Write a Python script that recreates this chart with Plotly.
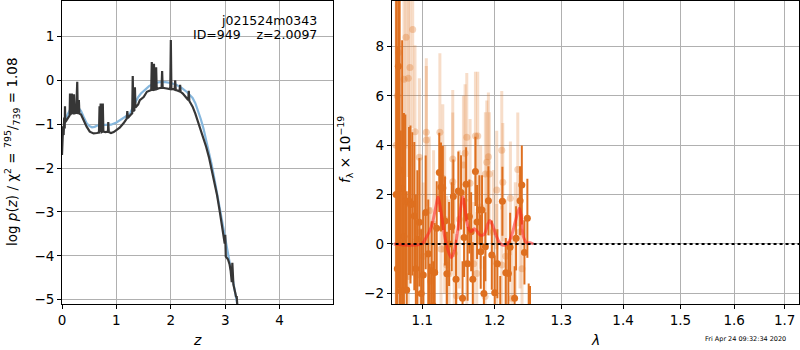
import plotly.graph_objects as go
import math

# ---------------- Left panel: log p(z) ----------------
z_chi = [0.00, 0.01, 0.02, 0.03, 0.04, 0.05, 0.055, 0.06, 0.08, 0.10, 0.12, 0.14, 0.147, 0.155,
         0.17, 0.18, 0.19, 0.21, 0.22, 0.23, 0.26, 0.28, 0.29, 0.30, 0.31, 0.32, 0.35, 0.39, 0.45,
         0.51, 0.58, 0.64, 0.68, 0.69, 0.70, 0.71, 0.72, 0.73, 0.745, 0.75, 0.76, 0.80, 0.845, 0.85,
         0.86, 0.90, 0.95, 1.00, 1.06, 1.13, 1.19, 1.20, 1.21, 1.25, 1.29, 1.30, 1.31, 1.33, 1.34,
         1.35, 1.40, 1.43, 1.50, 1.56, 1.60, 1.64, 1.65, 1.66, 1.68, 1.69, 1.70, 1.72, 1.73, 1.74,
         1.78, 1.83, 1.84, 1.85, 1.90, 1.96, 1.99, 2.00, 2.01, 2.05, 2.07, 2.08, 2.09, 2.14, 2.16,
         2.17, 2.18, 2.22, 2.26, 2.30, 2.32, 2.33, 2.34, 2.40, 2.45, 2.50, 2.55, 2.60, 2.65, 2.70,
         2.75, 2.80, 2.85, 2.90, 2.95, 2.99, 3.00, 3.01, 3.05, 3.08, 3.10, 3.12, 3.13, 3.15, 3.19,
         3.20, 3.21, 3.22]
logp_chi = [-1.70, -1.30, -1.05, -1.25, -0.85, -1.10, -0.59, -0.95, -0.92, -0.88, -0.85, -0.80, -0.30, -0.78,
            -0.75, -0.30, -0.76, -0.74, -0.32, -0.75, -0.74, -0.03, -0.74, -0.76, -0.45, -0.76, -0.78, -0.90, -1.05,
            -1.17, -1.21, -1.20, -1.19, -0.59, -1.18, -0.53, -1.18, -1.18, -1.17, -0.53, -1.17, -1.18, -1.17, -0.95,
            -1.18, -1.20, -1.18, -1.13, -1.08, -0.98, -0.87, -0.70, -0.86, -0.80, -0.75, 0.10, -0.70, -0.68, -0.16,
            -0.62, -0.55, -0.45, -0.38, -0.26, -0.24, -0.22, 0.42, -0.22, -0.22, 0.38, -0.21, -0.20, 0.30, -0.20,
            -0.18, -0.17, 0.21, -0.17, -0.18, -0.19, -0.20, 0.92, -0.20, -0.20, -0.21, 0.00, -0.22, -0.24, -0.25,
            -0.10, -0.26, -0.30, -0.35, -0.42, -0.45, -0.24, -0.47, -0.60, -0.76, -0.95, -1.12, -1.30, -1.52, -1.75,
            -2.02, -2.30, -2.62, -3.00, -3.35, -3.72, -3.52, -4.02, -4.08, -4.20, -4.35, -4.60, -4.16, -4.66, -4.88,
            -4.95, -4.92, -5.10]

z_smooth = [0.00, 0.05, 0.10, 0.15, 0.20, 0.25, 0.30, 0.35, 0.40, 0.45, 0.50, 0.55, 0.60, 0.65, 0.70,
            0.80, 0.90, 1.00, 1.10, 1.20, 1.25, 1.30, 1.35, 1.40, 1.45, 1.50, 1.60, 1.70, 1.80, 1.90,
            2.00, 2.10, 2.20, 2.30, 2.40, 2.45, 2.50, 2.55, 2.60, 2.65, 2.70, 2.75, 2.80, 2.85, 2.90,
            2.95, 3.00, 3.05, 3.10, 3.15, 3.20, 3.22]
logp_smooth = [-1.30, -0.95, -0.78, -0.66, -0.60, -0.59, -0.62, -0.70, -0.84, -0.97, -1.04, -1.07, -1.06, -1.03, -1.02,
               -1.02, -1.01, -0.96, -0.88, -0.82, -0.76, -0.62, -0.48, -0.38, -0.30, -0.24, -0.13, -0.06, -0.04, -0.04,
               -0.06, -0.10, -0.17, -0.27, -0.40, -0.52, -0.68, -0.88, -1.10, -1.35, -1.62, -1.92, -2.24, -2.58, -2.92,
               -3.28, -3.63, -3.98, -4.32, -4.66, -5.00, -5.10]

z_ticks = [0, 1, 2, 3, 4]
logp_ticks = [-5, -4, -3, -2, -1, 0, 1]

# ---------------- Right panel: spectrum ----------------
wave_g = [1.0660, 1.0675, 1.0688, 1.0705, 1.0720, 1.0737, 1.0760, 1.0778, 1.0796, 1.0826, 1.0845, 1.0869,
          1.0895, 1.0915, 1.0935, 1.0961, 1.0985, 1.1013, 1.1045, 1.1079, 1.1100, 1.1125, 1.1145, 1.1165,
          1.1192, 1.1227, 1.1250, 1.1275, 1.1304, 1.1330, 1.1360, 1.1396, 1.1418, 1.1455, 1.1487, 1.1524,
          1.1545, 1.1566, 1.1594, 1.1615, 1.1640, 1.1665, 1.1688, 1.1725, 1.1748, 1.1781, 1.1800, 1.1819,
          1.1845, 1.1866, 1.1909, 1.1958, 1.2000, 1.2038, 1.2080, 1.2111, 1.2161, 1.2199, 1.2224, 1.2290,
          1.2312, 1.2371, 1.2397, 1.2436, 1.2480, 1.2500, 1.2520]
flux_g = [2.0, -1.0, 7.2, 3.0, -1.9, 2.25, 0.3, 1.74, -1.86, 1.74, 1.6, 1.62,
          1.13, -1.0, 0.19, 0.88, -2.0, -1.26, 1.28, -0.40, -2.8, -1.08, -2.5, -1.15,
          0.64, 2.90, 2.31, 2.27, 0.93, -1.2, 0.0, 0.70, 1.92, -1.43, 2.15, 2.09,
          -2.2, 0.26, 2.42, -0.8, 1.11, 0.5, -1.43, 2.94, 0.89, 1.38, -0.31, 1.38,
          -2.0, -0.11, 1.75, -0.45, -1.97, -0.8, -2.6, 1.73, -1.16, -1.19, -0.13, -2.2,
          0.23, 1.75, 2.39, -0.34, 1.04, -3.3, -3.4]
err_g = [9.0, 9.0, 9.0, 7.0, 6.5, 6.0, 5.0, 3.5, 4.0, 3.0, 3.2, 2.9,
         3.0, 3.0, 2.8, 2.6, 2.6, 2.5, 2.3, 2.2, 2.0, 2.0, 1.8, 2.0,
         1.9, 1.6, 1.8, 1.7, 1.8, 1.7, 1.7, 1.8, 1.5, 1.6, 1.6, 1.5,
         1.5, 1.6, 1.5, 1.5, 1.5, 1.6, 1.5, 1.4, 1.5, 1.4, 1.5, 1.4,
         1.5, 1.4, 1.4, 1.4, 1.5, 1.4, 1.3, 1.4, 1.4, 1.3, 1.4, 1.3,
         1.3, 1.4, 1.6, 1.3, 1.6, 1.7, 1.7]

wave_o = [1.0660, 1.0675, 1.0690, 1.0761, 1.0787, 1.0816, 1.0816, 1.0838, 1.0874, 1.0904, 1.0926, 1.0961,
          1.0980, 1.1013, 1.1053, 1.1053, 1.1092, 1.1110, 1.1150, 1.1235, 1.1250, 1.1274, 1.1300, 1.1328,
          1.1360, 1.1410, 1.1410, 1.1430, 1.1460, 1.1500, 1.1557, 1.1580, 1.1604, 1.1604, 1.1650, 1.1700,
          1.1725, 1.1744, 1.1758, 1.1800, 1.1862, 1.1866, 1.1886, 1.1909, 1.1923, 1.1980, 1.2029, 1.2029,
          1.2102, 1.2102, 1.2117, 1.2160, 1.2228, 1.2249, 1.2300, 1.2337, 1.2371, 1.2400]
flux_o = [4.0, 6.0, 7.75, 6.67, 8.37, 6.71, -1.32, 7.15, 8.69, 4.55, -1.26, 3.51,
          0.5, -0.51, 4.52, 4.21, 1.35, -1.5, 0.8, 4.52, -0.2, 2.66, 1.0, -0.85,
          -1.2, 3.44, 2.52, -0.38, -2.1, 1.0, 3.2, 3.67, 4.32, -0.78, 2.46, -0.8,
          4.37, -1.19, 4.37, 1.5, -2.13, 2.83, 3.31, 3.53, 2.83, 0.5, 2.19, -0.78,
          3.8, -0.85, 2.50, -0.5, 1.85, -2.2, 0.2, 3.02, 0.5, -1.0]
err_o = [7.0, 6.0, 5.0, 4.5, 4.5, 4.0, 3.0, 4.0, 4.0, 3.5, 3.0, 3.2,
         3.0, 3.0, 3.0, 3.0, 3.0, 3.0, 3.0, 3.2, 3.0, 3.0, 3.0, 2.8,
         3.0, 2.8, 2.8, 2.8, 2.5, 2.8, 2.8, 2.8, 2.6, 2.6, 2.6, 2.5,
         2.6, 2.5, 2.6, 2.5, 2.5, 2.5, 2.5, 2.6, 2.5, 2.5, 2.4, 2.4,
         2.4, 2.4, 2.4, 2.3, 2.3, 2.3, 2.3, 2.3, 2.3, 2.2]

wave_model = [1.063, 1.099, 1.105, 1.112, 1.118, 1.121, 1.125, 1.130, 1.135, 1.139, 1.143, 1.148,
              1.152, 1.155, 1.158, 1.162, 1.166, 1.171, 1.175, 1.180, 1.185, 1.190, 1.193, 1.197,
              1.202, 1.207, 1.212, 1.218, 1.224, 1.230, 1.236, 1.239, 1.242, 1.247, 1.252, 1.257]
flux_model = [0.0, 0.0, 0.25, 0.7, 1.5, 1.9, 1.3, 0.3, -0.3, -0.55, -0.3, 0.6,
              1.5, 1.9, 1.4, 0.7, 0.5, 0.62, 0.5, 0.35, 0.4, 0.8, 0.95, 0.75,
              0.35, 0.05, -0.05, 0.0, 0.3, 0.9, 1.45, 1.1, 0.3, 0.05, 0.05, 0.0]

wave_zero = [1.05, 1.75]
flux_zero = [0.0, 0.0]

wave_ticks = [1.1, 1.2, 1.3, 1.4, 1.5, 1.6, 1.7]
wave_ticktext = ["1.1", "1.2", "1.3", "1.4", "1.5", "1.6", "1.7"]
flux_ticks = [-2, 0, 2, 4, 6, 8]

FONT = "DejaVu Sans"
ORANGE = "#de6f1f"

fig = go.Figure()

fig.add_trace(go.Scatter(x=z_smooth, y=logp_smooth, mode="lines",
                         line=dict(color="#86b7dd", width=2.2), xaxis="x", yaxis="y"))
fig.add_trace(go.Scatter(x=z_chi, y=logp_chi, mode="lines",
                         line=dict(color="#363636", width=2.2), xaxis="x", yaxis="y"))

fig.add_trace(go.Scatter(x=wave_o, y=flux_o, mode="markers",
                         marker=dict(color="rgba(222,111,31,0.3)", size=7),
                         error_y=dict(type="data", array=err_o, color="rgba(222,111,31,0.24)",
                                      thickness=3, width=0),
                         xaxis="x2", yaxis="y2"))
fig.add_trace(go.Scatter(x=wave_g, y=flux_g, mode="markers",
                         marker=dict(color=ORANGE, size=7),
                         error_y=dict(type="data", array=err_g, color=ORANGE, thickness=2, width=0),
                         xaxis="x2", yaxis="y2"))
fig.add_trace(go.Scatter(x=wave_model, y=flux_model, mode="lines",
                         line=dict(color="rgba(255,30,30,0.55)", width=3, shape="spline"),
                         xaxis="x2", yaxis="y2"))
fig.add_trace(go.Scatter(x=wave_zero, y=flux_zero, mode="lines",
                         line=dict(color="black", width=2, dash="dot"),
                         xaxis="x2", yaxis="y2"))

axis_common = dict(showline=True, linecolor="black", linewidth=1, mirror=True,
                   ticks="outside", ticklen=4, tickcolor="black", tickwidth=1,
                   showgrid=True, gridcolor="#b0b0b0", gridwidth=1, zeroline=False,
                   automargin=False,
                   tickfont=dict(family=FONT, size=13.5, color="black"))

fig.update_layout(
    width=800, height=350,
    margin=dict(l=0, r=0, t=0, b=0, autoexpand=False),
    paper_bgcolor="white", plot_bgcolor="white",
    showlegend=False,
    font=dict(family=FONT, color="black"),
    xaxis=dict(domain=[62 / 800, 333 / 800], range=[0, 4.98], tickvals=z_ticks,
               anchor="y", **axis_common),
    yaxis=dict(domain=[1 - 304 / 350, 1 - 1 / 350], range=[-5.1, 1.81], tickvals=logp_ticks,
               anchor="x", **axis_common),
    xaxis2=dict(domain=[391.7 / 800, 799.3 / 800], type="log",
                range=[math.log10(1.0603), math.log10(1.7302)],
                tickvals=wave_ticks, ticktext=wave_ticktext, anchor="y2", **axis_common),
    yaxis2=dict(domain=[1 - 304 / 350, 1 - 1 / 350], range=[-2.43, 9.84], tickvals=flux_ticks,
                anchor="x2", **axis_common),
)

ann = [
    dict(text="log <i>p</i>(<i>z</i>) / χ<sup>2</sup> = <sup>795</sup>/<sub>739</sub> = 1.08",
         x=12 / 800, y=1 - 152 / 350, textangle=-90, font=dict(size=13.5)),
    dict(text="<i>f</i><sub>λ</sub> × 10<sup>−19</sup>",
         x=345 / 800, y=1 - 150 / 350, textangle=-90, font=dict(size=13.5)),
    dict(text="<i>z</i>", x=197 / 800, y=1 - 340 / 350, font=dict(size=14)),
    dict(text="<i>λ</i>", x=595 / 800, y=1 - 340 / 350, font=dict(size=14)),
    dict(text="Fri Apr 24 09:32:34 2020", x=788 / 800, y=1 - 339 / 350, xanchor="right",
         font=dict(size=6.5)),
    dict(text="j021524m0343", x=319 / 800, y=1 - 20 / 350, xanchor="right", font=dict(size=12.5)),
    dict(text="ID=949    z=2.0097", x=319 / 800, y=1 - 34 / 350, xanchor="right",
         font=dict(size=12.5)),
]
for a in ann:
    a.setdefault("xanchor", "center")
    a.update(xref="paper", yref="paper", yanchor="middle", showarrow=False)
    a["font"].update(family=FONT, color="black")
fig.update_layout(annotations=ann)

fig.write_html("out.html", config={"displayModeBar": False},
               post_script="document.body.style.margin='0';document.body.style.overflow='hidden';")
